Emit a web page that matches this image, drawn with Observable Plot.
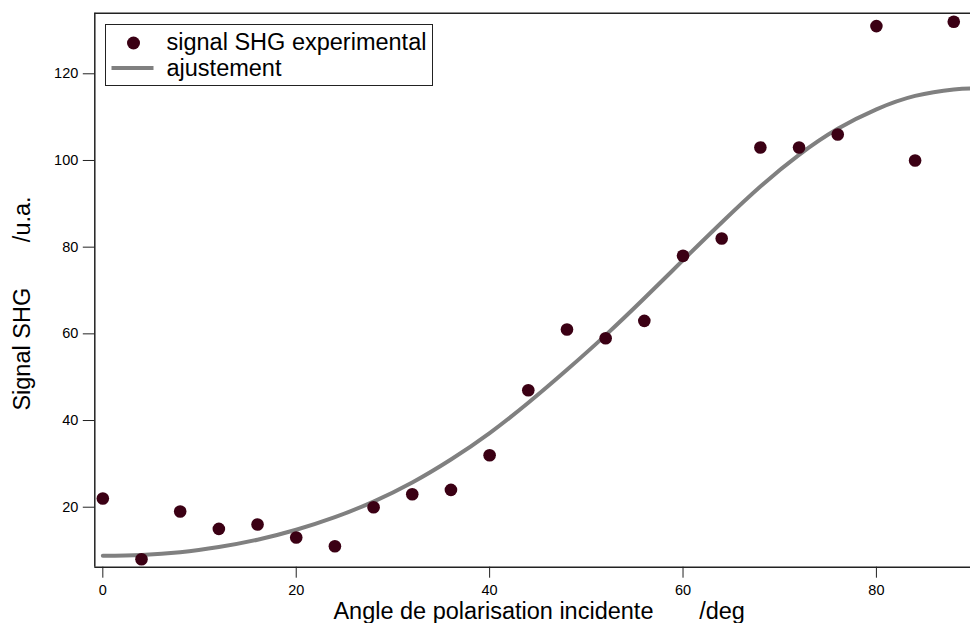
<!DOCTYPE html>
<html>
<head>
<meta charset="utf-8">
<script src="https://cdn.jsdelivr.net/npm/d3@7"></script>
<script src="https://cdn.jsdelivr.net/npm/@observablehq/plot@0.6"></script>
<style>
  html, body { margin: 0; padding: 0; background: #fff; }
  #wrap { position: relative; width: 970px; height: 623px; font-family: "Liberation Sans", Arial, sans-serif; }
  #legend { position: absolute; left: 105px; top: 24px; width: 326px; height: 60px; border: 1px solid #222; background: #fff; }
  #legend svg { position: absolute; left: 0; top: 0; }
</style>
</head>
<body>
<div id="wrap"></div>
<script>
// Experimental data
const angles = [0, 4, 8, 12, 16, 20, 24, 28, 32, 36, 40, 44, 48, 52, 56, 60, 64, 68, 72, 76, 80, 84, 88];
const signal = [22, 8, 19, 15, 16, 13, 11, 20, 23, 24, 32, 47, 61, 59, 63, 78, 82, 103, 103, 106, 131, 100, 132];
// Fit curve
const fitAngles = [0, 4, 8, 12, 16, 20, 24, 28, 32, 36, 40, 44, 48, 52, 56, 60, 64, 68, 72, 76, 80, 84, 88, 90];
const fitValues = [8.8, 9.0, 9.6, 10.8, 12.5, 14.8, 17.7, 21.3, 25.7, 31.0, 37.1, 44.1, 51.7, 59.7, 68.2, 77.0, 85.7, 94.0, 101.3, 107.3, 111.8, 114.9, 116.4, 116.6];
const xTicks = [0, 20, 40, 60, 80];
const yTicks = [20, 40, 60, 80, 100, 120];
const xDomain = [-0.83, 89.73];
const yDomain = [6.16, 133.98];
const xTitle = "Angle de polarisation incidente\u00a0\u00a0\u00a0\u00a0\u00a0\u00a0\u00a0/deg";
const yTitle = "Signal SHG\u00a0\u00a0\u00a0\u00a0\u00a0\u00a0\u00a0/u.a.";
const seriesNames = ["signal SHG experimental", "ajustement"];

const points = angles.map((a, i) => ({a, v: signal[i]}));
const fit = fitAngles.map((a, i) => ({a, v: fitValues[i]}));

const dotColor = "#3b0014";
const lineColor = "#808080";

const chart = Plot.plot({
  width: 970,
  height: 623,
  marginLeft: 94.3,
  marginRight: 0,
  marginTop: 12.7,
  marginBottom: 56.3,
  style: {fontFamily: "'Liberation Sans', Arial, sans-serif", background: "white", color: "black"},
  x: {domain: xDomain},
  y: {domain: yDomain},
  marks: [
    Plot.line(fit, {x: "a", y: "v", stroke: lineColor, strokeWidth: 4, curve: "natural", clip: true}),
    Plot.dot(points, {x: "a", y: "v", r: 6.3, fill: dotColor, stroke: "none"}),
    Plot.ruleX([xDomain[0]], {stroke: "#222", strokeWidth: 1.5}),
    Plot.ruleY([yDomain[0], yDomain[1]], {stroke: "#222", strokeWidth: 1.5}),
    Plot.axisX({ticks: xTicks, tickSize: 11, tickPadding: 6.5, fontSize: 14.5, label: null, stroke: "#222"}),
    Plot.axisY({ticks: yTicks, tickSize: 11.5, tickPadding: 5, fontSize: 14.5, label: null, stroke: "#222"}),
    Plot.text([xTitle], {frameAnchor: "bottom", textAnchor: "middle", lineAnchor: "middle", dy: 43.8, dx: 6.5, fontSize: 23.5, fill: "black"}),
    Plot.text([yTitle], {frameAnchor: "left", textAnchor: "middle", lineAnchor: "middle", rotate: -90, dx: -72.6, dy: 13.3, fontSize: 23.5, fill: "black"})
  ]
});

const wrap = document.getElementById("wrap");
wrap.appendChild(chart);

// Legend
const legend = document.createElement("div");
legend.id = "legend";
legend.innerHTML = `
<svg width="326" height="60" xmlns="http://www.w3.org/2000/svg">
  <circle cx="27.5" cy="18" r="6.5" fill="${dotColor}"/>
  <line x1="5.5" x2="47.5" y1="43" y2="43" stroke="${lineColor}" stroke-width="4"/>
  <text x="60.5" y="25" font-size="23.5" font-family="'Liberation Sans', Arial, sans-serif" fill="black">${seriesNames[0]}</text>
  <text x="60.5" y="51" font-size="23.5" font-family="'Liberation Sans', Arial, sans-serif" fill="black">${seriesNames[1]}</text>
</svg>`;
wrap.appendChild(legend);
</script>
</body>
</html>
